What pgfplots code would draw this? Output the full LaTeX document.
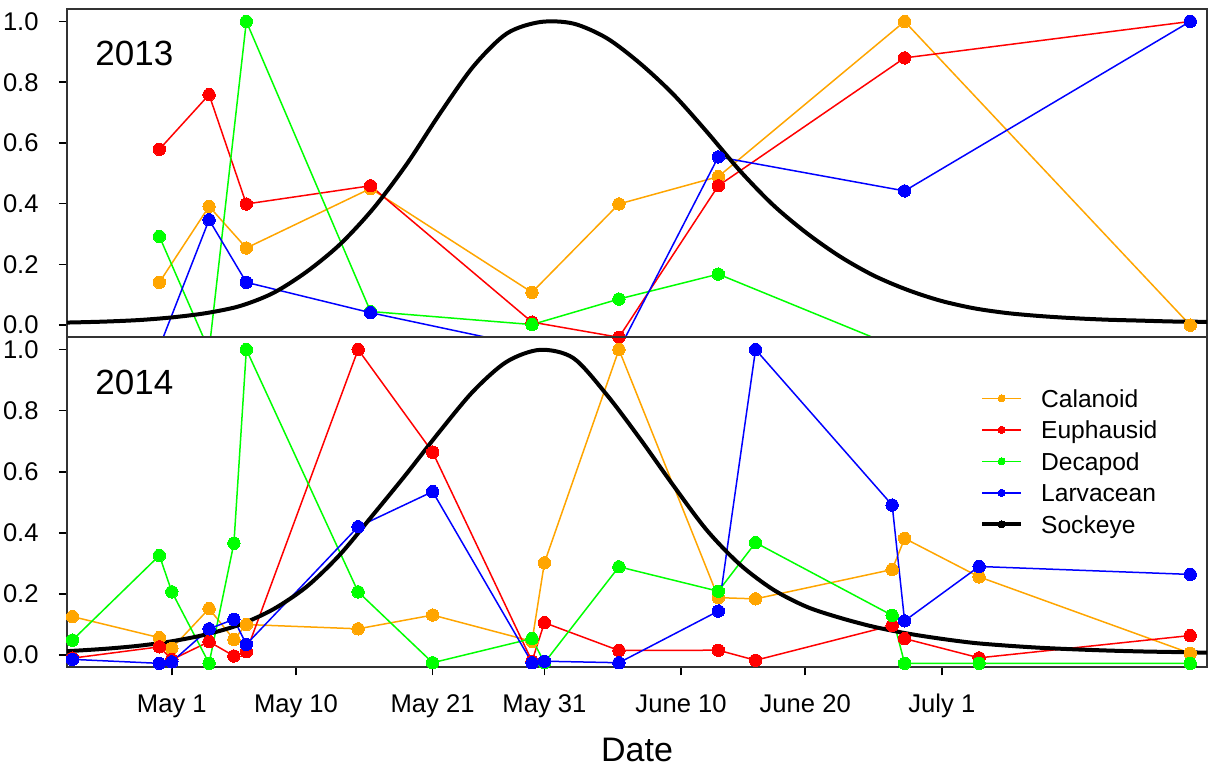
\documentclass[border=0pt]{standalone}
\usepackage{fontspec}
\setmainfont{Liberation Sans}
\usepackage{pgfplots}
\pgfplotsset{compat=1.18}
\definecolor{cCal}{RGB}{255,165,0}
\definecolor{cEup}{RGB}{255,0,0}
\definecolor{cDec}{RGB}{0,255,0}
\definecolor{cLar}{RGB}{0,0,255}
\pgfplotsset{
  /pgf/number format/assume math mode=true,
  panel/.style={
    scale only axis, width=570pt,
    xmin=-8.44, xmax=83.35, ymin=-0.04, ymax=1.04,
    axis line style={black!80, line width=1pt},
    ytick={0,0.2,0.4,0.6,0.8,1.0},
    yticklabel style={font=\fontsize{12.8}{15}\selectfont, anchor=east, inner sep=0pt, xshift=-10pt,
      /pgf/number format/.cd, fixed, fixed zerofill, precision=1},
    tick align=outside, tick pos=left,
    major tick length=4pt,
    tick style={black, line width=0.8pt},
  },
  ser/.style={color=#1, line width=0.75pt, mark=*, mark size=3.1pt,
    mark options={fill=#1, draw=#1, line width=0pt}},
  sock/.style={black, line width=2pt, smooth},
}
\begin{document}
\begin{tikzpicture}
% ---------------- 2013 ----------------
\begin{axis}[panel, name=top, at={(0pt,165pt)}, anchor=south west, height=164pt,
  xtick=\empty]
\addplot[ser=cCal] coordinates {(-1,0.141) (3,0.391) (6,0.254) (16,0.450) (29,0.108) (36,0.399) (44,0.489) (59,1.0) (82,0.0)};
\addplot[ser=cEup] coordinates {(-1,0.579) (3,0.759) (6,0.399) (16,0.459) (29,0.010) (36,-0.04) (44,0.459) (59,0.880) (82,1.0)};
\addplot[ser=cDec] coordinates {(-1,0.292) (3,-0.083) (6,1.0) (16,0.045) (29,0.002) (36,0.086) (44,0.168) (59,-0.083) (82,-0.083)};
\addplot[ser=cLar] coordinates {(-1,-0.072) (3,0.347) (6,0.141) (16,0.041) (29,-0.072) (36,-0.081) (44,0.554) (59,0.442) (82,1.0)};
\addplot[sock] coordinates {(-10.61,0.007) (-7.93,0.009) (-5.24,0.012) (-2.56,0.017) (0.12,0.026) (2.81,0.040) (5.49,0.063) (8.17,0.106) (10.86,0.176) (13.54,0.266) (16.22,0.384) (18.91,0.530) (21.59,0.697) (24.28,0.852) (26.96,0.960) (29.65,0.998) (32.33,0.993) (35.02,0.945) (37.70,0.862) (40.38,0.760) (43.07,0.637) (45.75,0.508) (48.43,0.395) (51.12,0.303) (53.80,0.226) (56.48,0.164) (59.17,0.117) (61.85,0.081) (64.53,0.056) (67.22,0.040) (69.90,0.030) (72.58,0.023) (75.27,0.018) (77.95,0.015) (80.64,0.012) (83.32,0.011) (86.00,0.010)};
\node[anchor=west, inner sep=0pt, font=\fontsize{17.5}{20}\selectfont] at (rel axis cs:0.0246,0.864) {2013};
\end{axis}
% ---------------- 2014 ----------------
\begin{axis}[panel, name=bot, at={(0pt,0pt)}, anchor=south west, height=165pt,
  xtick={0,10,21,30,41,51,62},
  xticklabels={May 1, May 10, May 21, May 31, June 10, June 20, July 1},
  xticklabel style={font=\fontsize{12.8}{15}\selectfont, anchor=base, inner sep=0pt, yshift=-18.75pt},
  xlabel={Date},
  xlabel style={font=\fontsize{17}{20}\selectfont, at={(axis description cs:0.5,0)}, anchor=center, inner sep=0pt, yshift=-41.35pt},
  legend image code/.code={\draw[mark repeat=2, mark phase=2] plot coordinates {(0pt,0pt) (9.75pt,0pt) (19.5pt,0pt)};},
  legend style={at={(rel axis cs:0.801,0.8424)}, anchor=north west, draw=none, fill=none,
    inner sep=0pt, outer sep=0pt, row sep=6.75pt, column sep=9pt,
    font=\fontsize{12.3}{14}\selectfont,
    nodes={inner sep=0pt, text height=9pt, text depth=0pt}},
  legend cell align=left]
\addlegendimage{color=cCal, line width=0.75pt, mark=*, mark size=1.8pt, mark options={fill=cCal, draw=cCal, line width=0pt}}
\addlegendentry{Calanoid}
\addlegendimage{color=cEup, line width=0.75pt, mark=*, mark size=1.8pt, mark options={fill=cEup, draw=cEup, line width=0pt}}
\addlegendentry{Euphausid}
\addlegendimage{color=cDec, line width=0.75pt, mark=*, mark size=1.8pt, mark options={fill=cDec, draw=cDec, line width=0pt}}
\addlegendentry{Decapod}
\addlegendimage{color=cLar, line width=0.75pt, mark=*, mark size=1.8pt, mark options={fill=cLar, draw=cLar, line width=0pt}}
\addlegendentry{Larvacean}
\addlegendimage{color=black, line width=2pt, mark=*, mark size=1.8pt, mark options={fill=black, draw=black, line width=0pt}}
\addlegendentry{Sockeye}
\addplot[ser=cCal, forget plot] coordinates {(-8,0.126) (-1,0.057) (0,0.022) (3,0.152) (5,0.051) (6,0.100) (15,0.086) (21,0.131) (29,0.045) (30,0.302) (36,1.0) (44,0.188) (47,0.184) (58,0.280) (59,0.382) (65,0.256) (82,0.006)};
\addplot[ser=cEup, forget plot] coordinates {(-8,-0.010) (-1,0.027) (0,-0.015) (3,0.044) (5,-0.003) (6,0.011) (15,1.0) (21,0.664) (29,-0.020) (30,0.106) (36,0.015) (44,0.016) (47,-0.017) (58,0.097) (59,0.054) (65,-0.009) (82,0.064)};
\addplot[ser=cDec, forget plot] coordinates {(-8,0.049) (-1,0.326) (0,0.207) (3,-0.027) (5,0.366) (6,1.0) (15,0.207) (21,-0.025) (29,0.054) (30,-0.025) (36,0.289) (44,0.209) (47,0.368) (58,0.130) (59,-0.027) (65,-0.027) (82,-0.027)};
\addplot[ser=cLar, forget plot] coordinates {(-8,-0.014) (-1,-0.027) (0,-0.022) (3,0.086) (5,0.117) (6,0.035) (15,0.420) (21,0.535) (29,-0.025) (30,-0.020) (36,-0.025) (44,0.144) (47,1.0) (58,0.491) (59,0.112) (65,0.290) (82,0.264)};
\addplot[sock, forget plot] coordinates {(-10.61,0.009) (-7.93,0.014) (-5.24,0.021) (-2.56,0.031) (0.12,0.046) (2.81,0.068) (5.49,0.100) (8.17,0.150) (10.86,0.224) (13.54,0.329) (16.22,0.460) (18.91,0.594) (21.59,0.733) (24.28,0.864) (26.96,0.960) (29.65,0.999) (32.33,0.972) (35.02,0.852) (37.70,0.708) (40.38,0.555) (43.07,0.409) (45.75,0.296) (48.43,0.214) (51.12,0.158) (53.80,0.122) (56.48,0.093) (59.17,0.071) (61.85,0.054) (64.53,0.040) (67.22,0.031) (69.90,0.024) (72.58,0.019) (75.27,0.015) (77.95,0.012) (80.64,0.010) (83.32,0.008) (86.00,0.007)};
\node[anchor=west, inner sep=0pt, font=\fontsize{17.5}{20}\selectfont] at (rel axis cs:0.0246,0.863) {2014};
\end{axis}
\pgfresetboundingbox
\useasboundingbox (-33.5pt,-50.35pt) rectangle (573.5pt,333.65pt);
\end{tikzpicture}
\end{document}
